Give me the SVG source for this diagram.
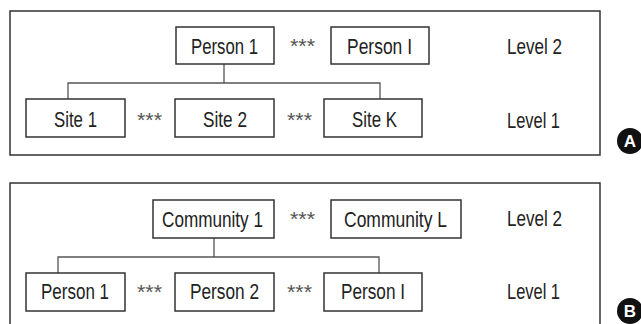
<svg xmlns="http://www.w3.org/2000/svg" width="641" height="324" viewBox="0 0 641 324">
<style>
.frame{fill:none;stroke:#333;stroke-width:1.5}
.box{fill:#fff;stroke:#333;stroke-width:1.5}
.conn{fill:none;stroke:#555;stroke-width:1.3}
.t{font-family:"Liberation Sans Narrow","Liberation Sans",Arial,sans-serif;font-size:22.5px;fill:#222}
.s{font-family:"Liberation Sans",Arial,sans-serif;font-size:21px;fill:#555}
.badge{fill:#111}
.bl{font-family:"Liberation Sans",Arial,sans-serif;font-size:17px;font-weight:bold;fill:#fff}
</style>
<rect width="641" height="324" fill="#fff"/>
<!-- Panel A -->
<g id="panelA">
<rect class="frame" x="10" y="11" width="590" height="144"/>
<g id="connectorsA">
<path class="conn" d="M224,64 V83 M68,99 V83 H380 V99"/>
</g>
<g id="a-person1"><rect class="box" x="176" y="27" width="98" height="37"/><text class="t" x="191" y="53.5" textLength="67" lengthAdjust="spacingAndGlyphs">Person 1</text></g>
<g id="a-personI"><rect class="box" x="331" y="27" width="98" height="37"/><text class="t" x="347" y="53.5" textLength="65" lengthAdjust="spacingAndGlyphs">Person I</text></g>
<g id="a-site1"><rect class="box" x="26" y="99" width="99" height="38"/><text class="t" x="54" y="127" textLength="43" lengthAdjust="spacingAndGlyphs">Site 1</text></g>
<g id="a-site2"><rect class="box" x="175" y="99" width="99" height="38"/><text class="t" x="203" y="127" textLength="44" lengthAdjust="spacingAndGlyphs">Site 2</text></g>
<g id="a-siteK"><rect class="box" x="324" y="99" width="98" height="38"/><text class="t" x="352" y="127" textLength="45" lengthAdjust="spacingAndGlyphs">Site K</text></g>
<text class="s" x="290" y="53" textLength="25" lengthAdjust="spacingAndGlyphs">***</text>
<text class="s" x="137" y="127" textLength="25" lengthAdjust="spacingAndGlyphs">***</text>
<text class="s" x="287" y="127" textLength="25" lengthAdjust="spacingAndGlyphs">***</text>
<text class="t" x="507" y="54" textLength="55" lengthAdjust="spacingAndGlyphs">Level 2</text>
<text class="t" x="507" y="128" textLength="53" lengthAdjust="spacingAndGlyphs">Level 1</text>
<g id="badgeA"><circle class="badge" cx="630" cy="141" r="13"/><text class="bl" x="630" y="147" text-anchor="middle">A</text></g>
</g>
<!-- Panel B -->
<g id="panelB">
<rect class="frame" x="10" y="183" width="590" height="160"/>
<g id="connectorsB">
<path class="conn" d="M214,238 V257 M58,273 V257 H379 V273"/>
</g>
<g id="b-community1"><rect class="box" x="153" y="200" width="121" height="38"/><text class="t" x="162" y="227" textLength="101" lengthAdjust="spacingAndGlyphs">Community 1</text></g>
<g id="b-communityL"><rect class="box" x="331" y="200" width="130" height="38"/><text class="t" x="344" y="227" textLength="103" lengthAdjust="spacingAndGlyphs">Community L</text></g>
<g id="b-person1"><rect class="box" x="26" y="273" width="99" height="38"/><text class="t" x="41" y="299" textLength="68" lengthAdjust="spacingAndGlyphs">Person 1</text></g>
<g id="b-person2"><rect class="box" x="175" y="273" width="99" height="38"/><text class="t" x="190" y="299" textLength="69" lengthAdjust="spacingAndGlyphs">Person 2</text></g>
<g id="b-personI"><rect class="box" x="324" y="273" width="98" height="38"/><text class="t" x="341" y="299" textLength="64" lengthAdjust="spacingAndGlyphs">Person I</text></g>
<text class="s" x="290" y="226" textLength="25" lengthAdjust="spacingAndGlyphs">***</text>
<text class="s" x="137" y="299" textLength="25" lengthAdjust="spacingAndGlyphs">***</text>
<text class="s" x="287" y="299" textLength="25" lengthAdjust="spacingAndGlyphs">***</text>
<text class="t" x="507" y="226" textLength="55" lengthAdjust="spacingAndGlyphs">Level 2</text>
<text class="t" x="507" y="299" textLength="53" lengthAdjust="spacingAndGlyphs">Level 1</text>
<g id="badgeB"><circle class="badge" cx="630" cy="311" r="13"/><text class="bl" x="630" y="317" text-anchor="middle">B</text></g>
</g>
</svg>
